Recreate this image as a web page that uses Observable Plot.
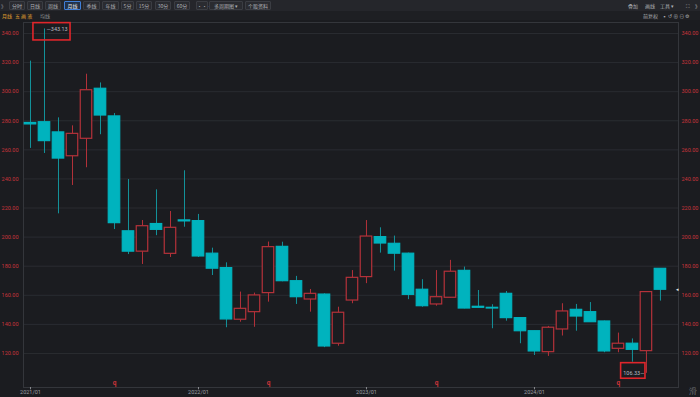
<!DOCTYPE html>
<html><head><meta charset="utf-8">
<script src="https://cdn.jsdelivr.net/npm/d3@7"></script>
<script src="https://cdn.jsdelivr.net/npm/@observablehq/plot@0.6"></script>
<style>
html,body{margin:0;padding:0;background:#1b1c20;width:700px;height:397px;overflow:hidden;font-family:"Noto Sans CJK SC","Noto Sans",sans-serif;}
#bar1{position:relative;height:11px;background:#25262b;}
#bar2{position:relative;height:9px;background:#1e1f23;border-top:0px;}
.b{position:absolute;top:1px;height:7px;border:1px solid #3b3d43;border-radius:1px;color:#aeb0b5;font-size:5px;line-height:7px;text-align:center;background:#2a2b30;}
.sel{border-color:#3f7fd8;color:#e6e8ec;background:#22324a;}
.t{position:absolute;color:#aeb0b5;font-size:5px;line-height:9px;top:1px;white-space:nowrap;}
.t2{position:absolute;color:#aeb0b5;font-size:5px;line-height:9px;top:0px;white-space:nowrap;}
#chart svg{display:block;}
</style>
</head><body>
<div id="bar1">
  <div class="t" style="left:1px;color:#9a9ca1">》</div>
  <div class="b" style="left:9px;width:14px">分时</div>
  <div class="b" style="left:27px;width:14px">日线</div>
  <div class="b" style="left:45px;width:14px">周线</div>
  <div class="b sel" style="left:64px;width:15px">月线</div>
  <div class="b" style="left:83px;width:15px">季线</div>
  <div class="b" style="left:102px;width:15px">年线</div>
  <div class="b" style="left:121px;width:11px">5分</div>
  <div class="b" style="left:136px;width:14px">15分</div>
  <div class="b" style="left:155px;width:14px">30分</div>
  <div class="b" style="left:174px;width:14px">60分</div>
  <div class="b" style="left:196px;width:10px">•••</div>
  <div class="b" style="left:209px;width:32px">多周期图 ▾</div>
  <div class="b" style="left:245px;width:24px">个股资料</div>
  <div class="t" style="left:628px">叠加</div>
  <div class="t" style="left:645px">画线</div>
  <div class="t" style="left:660px">工具 ▾</div>
  <div class="t" style="left:686px">⛶</div>
  <div class="t" style="left:695px">》</div>
</div>
<div id="bar2">
  <div class="t2" style="left:2px;color:#e0a030">月线</div>
  <div class="t2" style="left:15px;color:#e0a030">五 画 液</div>
  <div class="t2" style="left:40px;color:#8d8f94">均线</div>
  <div class="t2" style="left:643px">前复权</div>
  <div class="t2" style="left:662px">▪ ↺ ⊕ ⊖ ⚙</div>
</div>
<div id="chart"></div>
<script>
const months = ["2021/01","2021/02","2021/03","2021/04","2021/05","2021/06","2021/07","2021/08","2021/09","2021/10","2021/11","2021/12",
"2022/01","2022/02","2022/03","2022/04","2022/05","2022/06","2022/07","2022/08","2022/09","2022/10","2022/11","2022/12",
"2023/01","2023/02","2023/03","2023/04","2023/05","2023/06","2023/07","2023/08","2023/09","2023/10","2023/11","2023/12",
"2024/01","2024/02","2024/03","2024/04","2024/05","2024/06","2024/07","2024/08","2024/09","2024/10"];
const open  = [278.5,279,272,255.6,267.6,302,283,204,190,209,188.5,211.5,211,188.6,178.7,143.2,148.4,161.5,193.3,169.7,157.1,160.5,126.7,156.4,172.5,200,195.4,188.6,163.8,153.7,158.3,176.8,152.1,151.4,161,144.3,135.3,120.9,136.5,150,148.4,142,123.2,126.7,121.6,178.2];
const high  = [321,343.13,282,276.5,312,306,285,239.6,211.4,232.5,217.6,245.6,215.6,192.4,182.3,162.2,161.5,196.6,196.5,173,164,161,151.8,177,211.4,206.4,200.7,189,170.7,177,184,179.4,163.3,153.5,162.6,144.6,135.5,138.6,154.2,153.7,155,142.3,134,130,162.5,178.4];
const low   = [261,257.5,216,235.5,247.7,270.4,205.2,188,181.2,201,186,206.8,186,173.6,137.7,141.5,138,155.3,169.3,153.7,148.4,124,125,154.2,168,189,176.6,157,151.8,152.5,158,150.7,151.3,137,142.2,126.7,118.6,118,132,135.3,141.3,120.5,120.5,114,106.33,156];
const close = [277.5,266,254,271,301,283.6,209.6,190,207.5,205,206.4,210.8,186.7,178.3,143.4,150.7,159.9,193.1,169.7,158.7,161,124.8,148,172,200.4,195.6,188.6,160.3,152.5,158.7,176.2,150.9,151.4,150.9,144.3,135.3,121.4,137.7,148.9,145.4,141.5,121.4,126.7,122.5,162.2,163.8];
const yTicks = [120,140,160,180,200,220,240,260,280,300,320,340];
const xTickLabels = ["2021/01","2022/01","2023/01","2024/01"];
const markerMonths = ["2021/07","2022/06","2023/06","2024/07"];

const data = months.map((m,i)=>({i, m, o:open[i], h:high[i], l:low[i], c:close[i]}));
const isUp = d => d.c > d.o;
const RED = "#b5323a", CYAN = "#00b3be", CYANW = "#14939b", BG = "#1b1c20";
const yDom = [96.6, 347.56];
const hiI = high.indexOf(d3.max(high)), loI = low.indexOf(d3.min(low));
const hiPt = [{i:hiI, v:high[hiI]}], loPt = [{i:loI, v:low[loI]}];
const xTicks = xTickLabels.map(l => months.indexOf(l));
const markers = markerMonths.map(l => ({i: months.indexOf(l)}));
const last = data[data.length-1];

const chart = Plot.plot({
  width: 700, height: 377,
  marginTop: 2, marginBottom: 10, marginLeft: 23, marginRight: 22,
  style: {background: BG, fontFamily: "Roboto, 'Noto Sans', sans-serif", overflow: "visible"},
  x: {domain: [-0.5, 46.29], axis: null},
  y: {domain: yDom, axis: null},
  color: {type: "identity"},
  marks: [
    Plot.ruleY(yTicks, {stroke: "#2a2c31", strokeWidth: 1}),
    Plot.frame({stroke: "#34363b"}),
    // wicks
    Plot.ruleX(data, {x: "i", y1: "h", y2: d => Math.max(d.o, d.c), stroke: d => isUp(d) ? RED : CYANW, strokeWidth: 1}),
    Plot.ruleX(data, {x: "i", y1: d => Math.min(d.o, d.c), y2: "l", stroke: d => isUp(d) ? RED : CYANW, strokeWidth: 1}),
    // bodies
    Plot.rect(data, {x1: d => d.i - 0.41, x2: d => d.i + 0.41, y1: "o", y2: "c",
      fill: d => isUp(d) ? BG : CYAN, stroke: d => isUp(d) ? RED : CYAN, strokeWidth: 1.2}),
    // axis labels
    Plot.text(yTicks, {y: d => d, frameAnchor: "left", dx: -5, textAnchor: "end", text: d => d.toFixed(2), fill: "#c8343b", fontSize: 5.5}),
    Plot.text(yTicks, {y: d => d, frameAnchor: "right", dx: 3, textAnchor: "start", text: d => d.toFixed(2), fill: "#c8343b", fontSize: 5.5}),
    Plot.text(xTicks, {x: d => d, frameAnchor: "bottom", dy: 6, text: (d, k) => xTickLabels[k], fill: "#9c9ea3", fontSize: 5.5}),
    Plot.ruleX(xTicks, {x: d => d, y1: yDom[0], y2: yDom[0] - 1.6, stroke: "#8a8c90", clip: false}),
    // event markers
    Plot.text(markers, {x: "i", y: 100, text: () => "q", fill: "#d0343a", fontSize: 6.5, fontWeight: "bold"}),
    // max / min labels
    Plot.text(hiPt, {x: "i", y: "v", dx: 2, textAnchor: "start", text: d => "—" + d.v.toFixed(2), fill: "#b8bac0", fontSize: 5.5}),
    Plot.text(loPt, {x: "i", y: "v", dx: -2, textAnchor: "end", text: d => d.v.toFixed(2) + "—", fill: "#b8bac0", fontSize: 5.5}),
    Plot.rect(hiPt, {x1: d => d.i - 0.79, x2: d => d.i + 1.86, y1: d => d.v + 4, y2: d => d.v - 7.9, fill: "none", stroke: "#e0262b", strokeWidth: 1.6}),
    Plot.rect(loPt, {x1: d => d.i - 1.81, x2: d => d.i - 0.07, y1: d => d.v + 7, y2: d => d.v - 3.7, fill: "none", stroke: "#e0262b", strokeWidth: 1.6}),
    // current price pointer
    Plot.text([last], {x: "i", y: "c", dx: 17, text: () => "◂", fill: "#e8e8e8", fontSize: 5}),
    Plot.text(["滑"], {frameAnchor: "bottom-right", dx: 18, dy: 6, text: d => d, fill: "#6e7075", fontSize: 8})
  ]
});
document.getElementById("chart").appendChild(chart);
</script>
</body></html>
